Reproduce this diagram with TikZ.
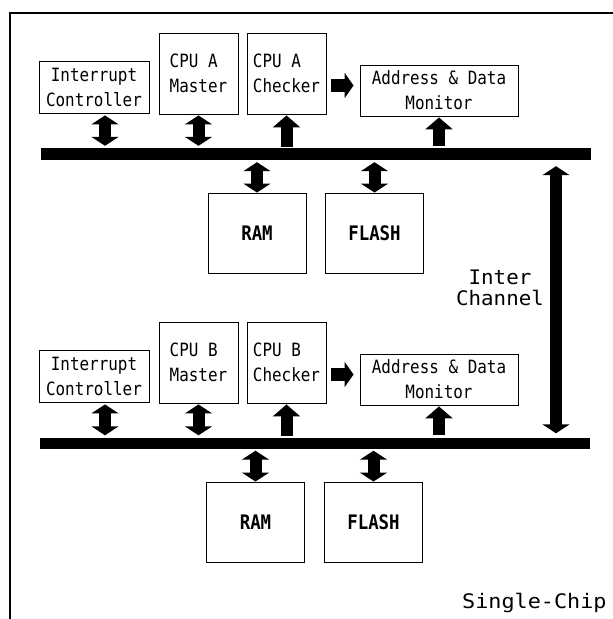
\documentclass[tikz,border=0pt]{standalone}
\usepackage{fontspec}
\usetikzlibrary{arrows.meta}
\newfontfamily\boxfont[FakeStretch=0.87]{DejaVu Sans Mono}
\newfontfamily\labfont[FakeStretch=1.04]{DejaVu Sans Mono}
\newfontfamily\chipfont[FakeStretch=1.09]{DejaVu Sans Mono}
\begin{document}
\begin{tikzpicture}[x=1pt,y=-1pt,
  box/.style={draw, line width=0.9pt, inner sep=0pt, align=center,
    font=\boxfont\fontsize{18.3pt}{25pt}\selectfont},
  cpubox/.style={box, align=left, minimum width=79pt, minimum height=81pt},
  icbox/.style={box, minimum width=110pt, minimum height=52pt},
  monbox/.style={box, minimum width=158pt, minimum height=51pt},
  membox/.style={box, minimum width=98pt, minimum height=80pt,
    font=\boxfont\bfseries\fontsize{20pt}{24pt}\selectfont},
  bus/.style={fill=black, inner sep=0pt, minimum width=550pt},
  dbl/.style={line width=12pt, {Triangle[length=9pt,width=27pt]}-{Triangle[length=9pt,width=27pt]}},
  uparr/.style={line width=12pt, -{Triangle[length=12pt,width=27pt]}},
  rtarr/.style={line width=13pt, -{Triangle[length=9pt,width=25pt]}},
  lab/.style={font=\labfont\fontsize{20pt}{21pt}\selectfont, inner sep=0pt}
]
\useasboundingbox (0,0) rectangle (613,619);
\fill[white] (0,0) rectangle (613,619);
% frame
\draw[line width=2pt] (613,13) -- (10,13) -- (10,619);

% ---- section A ----
\node[icbox] (icA) at (94,87) {Interrupt\\Controller};
\node[cpubox] (cpuAm) at (198.5,73.5) {CPU A\\Master};
\node[cpubox] (cpuAc) at (286.5,73.5) {CPU A\\Checker};
\node[monbox] (monA) at (439,90.5) {Address \& Data\\Monitor};
\node[bus, minimum height=12pt] (busA) at (316,154) {};
\node[membox] (ramA) at (257,233) {RAM};
\node[membox] (flashA) at (374.5,233) {FLASH};

\coordinate (icAx) at ([xshift=11pt]icA.south);
\draw[dbl, shorten <=2pt, shorten >=2pt] (icAx) -- (icAx |- busA.north);
\draw[dbl, shorten <=1pt, shorten >=2pt] (cpuAm.south) -- (cpuAm.south |- busA.north);
\draw[uparr, shorten <=1pt, shorten >=1pt] (cpuAc.south |- busA.north) -- (cpuAc.south);
\draw[uparr, shorten <=2pt, shorten >=1pt] (monA.south |- busA.north) -- (monA.south);
\draw[dbl, shorten <=2pt, shorten >=0pt] (ramA.north |- busA.south) -- (ramA.north);
\draw[dbl, shorten <=2pt, shorten >=0pt] (flashA.north |- busA.south) -- (flashA.north);
\coordinate (raA) at ([yshift=-12pt]cpuAc.east);
\draw[rtarr, shorten <=5pt, shorten >=6pt] (raA) -- (raA -| monA.west);

% ---- section B ----
\node[icbox] (icB) at (94,376) {Interrupt\\Controller};
\node[cpubox] (cpuBm) at (198.5,362.5) {CPU B\\Master};
\node[cpubox] (cpuBc) at (286.5,362.5) {CPU B\\Checker};
\node[monbox] (monB) at (439,379.5) {Address \& Data\\Monitor};
\node[bus, minimum height=11pt] (busB) at (315,443) {};
\node[membox] (ramB) at (255.5,522) {RAM};
\node[membox] (flashB) at (373.5,522) {FLASH};

\coordinate (icBx) at ([xshift=11pt]icB.south);
\draw[dbl, shorten <=2pt, shorten >=2pt] (icBx) -- (icBx |- busB.north);
\draw[dbl, shorten <=1pt, shorten >=2pt] (cpuBm.south) -- (cpuBm.south |- busB.north);
\draw[uparr, shorten <=1pt, shorten >=1pt] (cpuBc.south |- busB.north) -- (cpuBc.south);
\draw[uparr, shorten <=2pt, shorten >=1pt] (monB.south |- busB.north) -- (monB.south);
\draw[dbl, shorten <=2pt, shorten >=0pt] (ramB.north |- busB.south) -- (ramB.north);
\draw[dbl, shorten <=2pt, shorten >=0pt] (flashB.north |- busB.south) -- (flashB.north);
\coordinate (raB) at ([yshift=-12pt]cpuBc.east);
\draw[rtarr, shorten <=5pt, shorten >=6pt] (raB) -- (raB -| monB.west);

% ---- inter channel ----
\coordinate (icx) at (556,300);
\draw[dbl, shorten <=6pt, shorten >=4pt] (icx |- busA.south) -- (icx |- busB.north);
\node[lab, align=center] (ich) at (500,288) {Inter\\Channel};
\node[lab, font=\chipfont\fontsize{20pt}{21pt}\selectfont, anchor=base west] (sc) at (462,608) {Single-Chip};
\end{tikzpicture}
\end{document}
